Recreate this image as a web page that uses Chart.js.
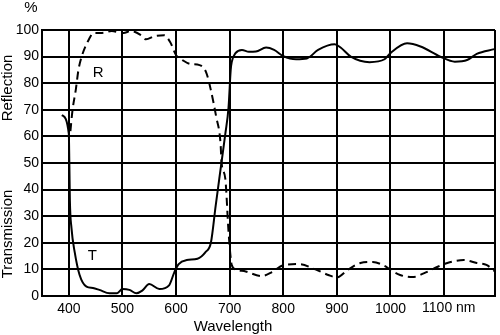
<!DOCTYPE html>
<html lang="en">
<head>
    <meta charset="UTF-8">
    <title>Reflection / Transmission</title>
    <script src="https://cdn.jsdelivr.net/npm/chart.js"></script>
    <style>
        body {
            margin: 0;
            padding: 0;
            background: white;
        }
        canvas {
            display: block;
        }
    </style>
</head>
<body>
    <canvas id="rt-chart" width="500" height="335"></canvas>

    <script>
        // Transmission curve (solid)
        const tWavelength = [387, 400, 401, 402, 405, 411, 420, 433, 445, 457, 476, 490, 500, 513, 526, 537, 550, 569, 587, 597, 605, 620, 640, 655, 665, 674, 684, 692, 698, 702, 704, 711, 723, 736, 749, 768, 783, 800, 824, 844, 865, 896, 907, 926, 961, 989, 1000, 1031, 1056, 1093, 1120, 1143, 1161, 1194];
        const tValues = [68, 61, 50, 36, 25.5, 16.5, 8, 3.5, 3, 2.3, 1, 1, 2.6, 2.3, 1, 2, 4.5, 2.6, 4, 9, 12, 13.5, 14, 16.5, 20, 34, 49, 61, 71, 85, 88, 91.3, 92.5, 91.8, 91.9, 93.4, 92.5, 90.2, 89, 89.3, 92.5, 94.6, 93.4, 90, 87.9, 89, 91.3, 95, 93.8, 90, 88.1, 88.7, 91, 92.8];

        // Reflection curve (dashed)
        const rWavelength = [403, 407, 413, 418, 425, 435, 447, 462, 480, 502, 516, 535, 544, 560, 578, 589, 600, 612, 627, 644, 656, 665, 675, 683, 685, 692, 698, 704, 711, 730, 760, 779, 800, 829, 860, 884, 900, 920, 944, 967, 989, 1000, 1018, 1041, 1063, 1087, 1106, 1137, 1161, 1179, 1194];
        const rValues = [62, 70, 77.5, 85, 90.6, 95.5, 98.9, 98.9, 99.6, 98.9, 99.6, 98, 96.5, 97.7, 98, 95.5, 90.6, 88.7, 87.2, 86.8, 84.2, 77.4, 67.3, 57.5, 50, 44, 24, 11.6, 10, 9.2, 7.5, 9, 11.6, 12, 10, 7.9, 7, 9.8, 12.4, 12.8, 11.3, 9.8, 7.9, 7.1, 8.6, 10.9, 12.4, 13.5, 12.4, 11.7, 9.4];

        // Axis grid positions
        const xTicks = [350, 400, 500, 600, 700, 800, 900, 1000, 1100, 1195];
        const xMin = 350;
        const xMax = 1195;

        const FONT = '"Liberation Sans", Arial, sans-serif';

        const toPoints = (xs, ys) => xs.map((x, i) => ({ x: x, y: ys[i] }));

        // Extra text: unit, axis titles, curve letters, last tick with unit
        const textPlugin = {
            id: 'chartText',
            afterDraw(chart) {
                const ctx = chart.ctx;
                const xs = chart.scales.x;
                const ys = chart.scales.y;
                ctx.save();
                ctx.fillStyle = '#000';
                ctx.textAlign = 'center';
                ctx.textBaseline = 'middle';
                ctx.font = '15px ' + FONT;
                ctx.fillText('%', 31, 8);
                ctx.fillText('Wavelength', 233, 327);
                ctx.fillText('R', xs.getPixelForValue(455), ys.getPixelForValue(84));
                ctx.fillText('T', xs.getPixelForValue(444), ys.getPixelForValue(15));

                ctx.font = '14px ' + FONT;
                ctx.textAlign = 'left';
                ctx.fillText('1100 nm', xs.getPixelForValue(1100) - 22, 308);

                ctx.font = '15px ' + FONT;
                ctx.textAlign = 'center';
                ctx.translate(8, 88);
                ctx.rotate(-Math.PI / 2);
                ctx.fillText('Reflection', 0, 0);
                ctx.rotate(Math.PI / 2);
                ctx.translate(0, 146);
                ctx.rotate(-Math.PI / 2);
                ctx.fillText('Transmission', 0, 0);
                ctx.restore();
            }
        };

        const ctx = document.getElementById('rt-chart').getContext('2d');
        new Chart(ctx, {
            type: 'line',
            data: {
                datasets: [
                    {
                        label: 'T',
                        data: toPoints(tWavelength, tValues),
                        borderColor: '#000',
                        borderWidth: 2,
                        pointRadius: 0,
                        fill: false,
                        cubicInterpolationMode: 'monotone'
                    },
                    {
                        label: 'R',
                        data: toPoints(rWavelength, rValues),
                        borderColor: '#000',
                        borderWidth: 2,
                        borderDash: [8, 5],
                        pointRadius: 0,
                        fill: false,
                        cubicInterpolationMode: 'monotone'
                    }
                ]
            },
            options: {
                responsive: false,
                animation: false,
                layout: { padding: { top: 30, right: 2, left: 0, bottom: 0 } },
                plugins: {
                    legend: { display: false },
                    tooltip: { enabled: false }
                },
                scales: {
                    x: {
                        type: 'linear',
                        min: xMin,
                        max: xMax,
                        afterBuildTicks: scale => {
                            scale.ticks = xTicks.map(v => ({ value: v }));
                        },
                        afterFit: scale => {
                            scale.height = 39;
                        },
                        grid: { color: '#000', lineWidth: 2, drawTicks: false },
                        border: { color: '#000', width: 2 },
                        ticks: {
                            autoSkip: false,
                            maxRotation: 0,
                            padding: 5,
                            color: '#000',
                            font: { family: FONT, size: 14 },
                            callback: v => (v % 100 === 0 && v !== 1100) ? v : ''
                        }
                    },
                    y: {
                        min: 0,
                        max: 100,
                        afterFit: scale => {
                            scale.width = 42;
                        },
                        grid: { color: '#000', lineWidth: 2, drawTicks: false },
                        border: { color: '#000', width: 2 },
                        ticks: {
                            stepSize: 10,
                            padding: 3,
                            color: '#000',
                            font: { family: FONT, size: 14 }
                        }
                    }
                }
            },
            plugins: [textPlugin]
        });
    </script>
</body>
</html>
